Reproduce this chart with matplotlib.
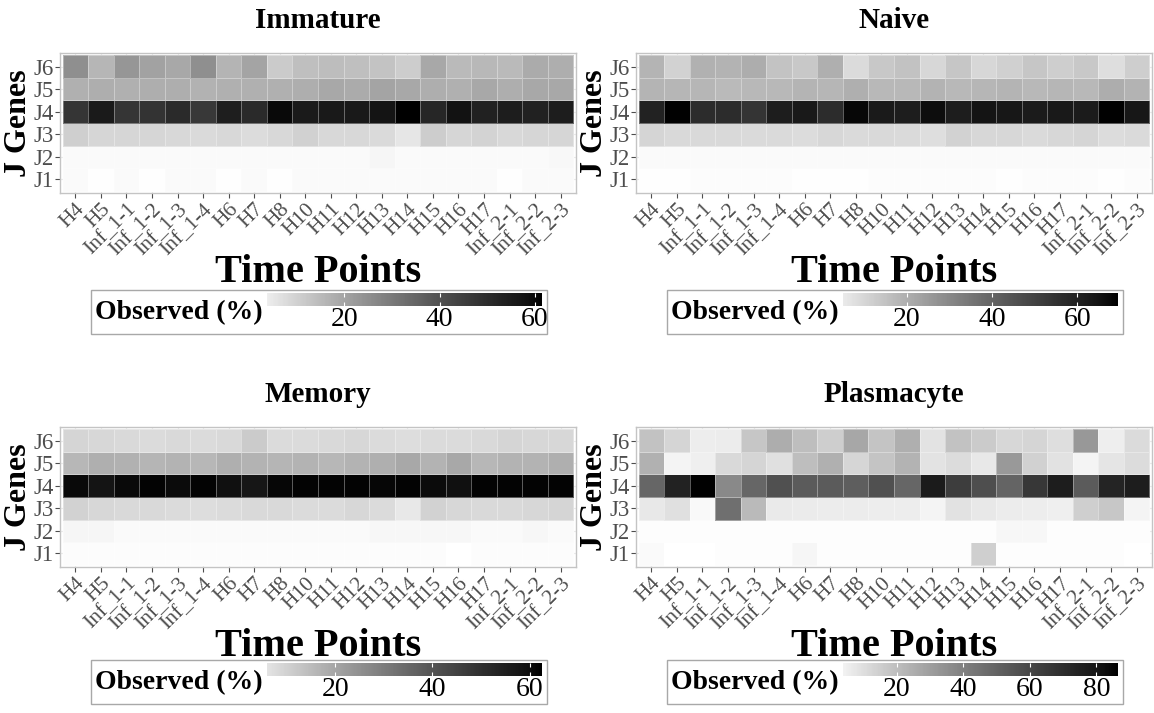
import matplotlib
matplotlib.use('Agg')
import matplotlib.pyplot as plt
from matplotlib.colors import ListedColormap, Normalize
from matplotlib.patches import Rectangle
import numpy as np

plt.rcParams['font.family'] = ['Liberation Serif', 'DejaVu Serif']

time_points = ['H4', 'H5', 'Inf_1-1', 'Inf_1-2', 'Inf_1-3', 'Inf_1-4', 'H6', 'H7', 'H8',
               'H10', 'H11', 'H12', 'H13', 'H14', 'H15', 'H16', 'H17',
               'Inf_2-1', 'Inf_2-2', 'Inf_2-3']
j_genes = ['J1', 'J2', 'J3', 'J4', 'J5', 'J6']

# observed usage (%), rows J1..J6, columns follow time_points
immature = [
    [1.0, 0.3, 1.0, 0.3, 1.0, 1.0, 0.3, 1.0, 0.3, 1.0, 1.0, 1.0, 1.0, 1.0, 1.0, 1.0, 1.0, 0.3, 1.0, 1.0],
    [1.0, 1.0, 1.0, 1.0, 1.0, 1.0, 1.0, 1.0, 1.0, 1.0, 1.0, 1.0, 2.0, 1.0, 1.0, 1.0, 1.0, 1.0, 1.0, 1.5],
    [10.5, 9, 9, 9, 8.5, 8, 8.5, 7.5, 8.5, 10, 8.5, 8.5, 8, 5.5, 11, 9, 9.5, 8.5, 9, 9],
    [48, 55.5, 48, 48.5, 51, 47, 54.5, 51, 60, 55.5, 56, 56, 57.5, 62, 52, 58, 53.5, 55, 53.5, 55],
    [17.5, 18, 17.5, 18, 18, 17, 17.5, 17.5, 17.5, 18, 19, 18.5, 20, 19, 18, 17.5, 19, 18, 19, 19],
    [25, 16, 23.5, 20.5, 19, 25, 16.5, 20, 11.5, 14, 14.5, 14, 13, 11, 19, 15, 15.5, 15, 18.5, 18],
]
naive = [
    [0.3, 0.3, 1.0, 1.0, 1.0, 1.0, 0.3, 0.3, 0.3, 1.0, 1.0, 1.0, 1.0, 1.0, 0.3, 1.0, 1.0, 1.0, 0.3, 1.0],
    [1.2, 1.2, 1.2, 1.2, 1.2, 1.2, 1.2, 1.2, 1.2, 1.2, 1.2, 1.2, 1.2, 1.2, 1.2, 1.2, 1.2, 1.2, 1.2, 1.2],
    [10.5, 9.5, 9.5, 9.5, 9, 9, 8.5, 10, 9, 9.5, 9, 8, 11, 10, 10, 9, 10, 10.5, 8.5, 9],
    [60, 69, 57, 57, 54.5, 62, 63.5, 57, 68, 63, 62, 67, 62, 65, 64, 62.5, 63.5, 62.5, 69, 64],
    [18.5, 18, 18, 17, 17.5, 17.5, 18.5, 18, 20, 17.5, 17.5, 19, 17.5, 18, 18.5, 17.5, 18, 17.5, 20.5, 19],
    [18.5, 11, 19.5, 19, 20.5, 14.7, 13.5, 20, 8.7, 13.5, 15, 10, 14, 10, 11.5, 14, 12, 13.5, 8, 12],
]
memory = [
    [0.8, 0.8, 0.8, 0.8, 0.8, 0.8, 0.8, 0.8, 0.8, 0.8, 0.8, 0.8, 0.8, 0.8, 0.8, 0.2, 0.8, 0.8, 0.8, 0.8],
    [2, 2, 1, 1, 1, 1, 1, 1, 1, 1, 1, 1, 1.8, 1.8, 1.8, 1.8, 1, 1, 1.8, 1],
    [10, 9, 8.5, 8.5, 8, 7.5, 8, 8.5, 8.5, 8, 8, 9, 8, 5, 10, 9, 8.5, 8.5, 9, 9.5],
    [61, 58.5, 61, 62, 60.5, 62, 59.5, 58, 61.5, 62, 62, 62, 61.5, 62, 60.5, 59.5, 62, 62, 62, 62],
    [16, 18, 17.5, 16.5, 17, 16, 18, 17, 16.5, 17, 16, 17, 18, 19.5, 17, 19.5, 16, 17, 17, 18],
    [9.5, 9, 8.5, 8, 8.5, 8, 8.5, 11.5, 8, 8, 8.5, 9, 8, 7.5, 8, 8, 8.5, 9.5, 9, 9],
]
plasmacyte = [
    [1.5, 0, 0, 1, 1, 1, 3, 1, 1, 1, 1, 1, 1, 14.7, 0.8, 0.8, 0.8, 0.8, 0.8, 0.3],
    [1, 1, 1, 1, 1, 1, 1, 1, 1, 1, 1, 1, 1, 1, 2.5, 2.5, 1, 1, 1, 1],
    [7, 9.5, 2, 46, 21, 6.5, 6.2, 6, 6, 5.6, 5.6, 3.5, 9, 7, 6, 5.6, 5, 14.7, 17, 3.5],
    [49, 75, 86, 37, 49, 57, 53, 53, 52, 57, 49, 78, 64, 57.5, 50, 66.5, 77, 53, 74, 77],
    [24, 3.7, 5, 11.6, 13, 9.5, 20, 24.5, 12.8, 18.2, 23.5, 8.7, 10.8, 7, 32, 14, 9, 3.5, 8, 10.8],
    [18.6, 13, 5.6, 5.8, 17.3, 25.5, 20, 15, 27.3, 18, 24.7, 8.7, 18.6, 16, 12.5, 13, 10, 32.3, 5.3, 11],
]

W, H = 1154, 713

# white -> black, linear in L* like ggplot's gradient
L = np.linspace(100, 0, 256)
Y = np.where(L > 8, ((L + 16) / 116) ** 3, L / 903.3)
g = np.where(Y > 0.0031308, 1.055 * Y ** (1 / 2.4) - 0.055, 12.92 * Y)
greys = ListedColormap(np.column_stack([g, g, g]))


def fx(x):
    return x / W


def fy(y):
    return 1 - y / H


panels = [
    ('Immature', immature, 60, 53, 3.8, 61.5, [20, 40, 60], 91, 290),
    ('Naive', naive, 636, 53, 5.0, 69.5, [20, 40, 60], 667, 290),
    ('Memory', memory, 60, 427, 6.0, 62.5, [20, 40, 60], 91, 660),
    ('Plasmacyte', plasmacyte, 636, 427, 3.8, 86.5, [20, 40, 60, 80], 667, 660),
]

fig = plt.figure(figsize=(W / 100, H / 100), dpi=100)

for title, values, left, top, lo, hi, ticks, bx, by in panels:
    aw, ah = 516, 140
    ax = fig.add_axes([fx(left), fy(top + ah), aw / W, ah / H])
    norm = Normalize(vmin=0, vmax=hi)
    data = np.array(values)
    ax.set_axisbelow(True)
    ax.grid(color='#EBEBEB', lw=0.8)
    ax.pcolormesh(np.arange(-0.5, len(time_points)), np.arange(-0.5, len(j_genes)), data,
                  cmap=greys, norm=norm, edgecolors=(1, 1, 1, 0.35), linewidth=0.6)
    ax.set_xlim(-0.6, len(time_points) - 0.4)
    ax.set_ylim(-0.6, len(j_genes) - 0.4)
    ax.set_xticks(range(len(time_points)))
    ax.set_xticklabels(time_points, rotation=45, ha='right', va='top', rotation_mode='anchor')
    ax.set_yticks(range(len(j_genes)))
    ax.set_yticklabels(j_genes)
    ax.tick_params(length=3.5, width=0.8, color='#4D4D4D', labelcolor='#4D4D4D', pad=1.5)
    ax.tick_params(axis='x', labelsize=15.5)
    ax.tick_params(axis='y', labelsize=16.5, pad=1)
    for s in ax.spines.values():
        s.set_color('#C4C4C4')
        s.set_linewidth(1)

    cx = left + aw / 2
    fig.text(fx(cx), fy(top - 33), title, ha='center', va='center', fontsize=21, fontweight='bold')
    fig.text(fx(cx), fy(top + 219), 'Time Points', ha='center', va='center',
             fontsize=29, fontweight='bold')
    fig.text(fx(left - 41), fy(top + ah / 2), 'J Genes', ha='center', va='center',
             rotation=90, fontsize=23, fontweight='bold')

    # legend box with colour bar
    fig.patches.append(Rectangle((fx(bx), fy(by + 44)), 456 / W, 44 / H,
                                 transform=fig.transFigure, fill=False,
                                 edgecolor='#A8A8A8', lw=1))
    fig.text(fx(bx + 4), fy(by + 23), 'Observed (%)', ha='left', va='center',
             fontsize=20, fontweight='bold')
    cax = fig.add_axes([fx(bx + 176), fy(by + 16), 275 / W, 13 / H])
    grad = np.linspace(lo, hi, 300).reshape(1, -1)
    cax.imshow(grad, cmap=greys, norm=norm, aspect='auto', extent=[lo, hi, 0, 1])
    cax.set_xlim(lo, hi)
    cax.set_yticks([])
    cax.set_xticks(ticks)
    cax.set_xticklabels([str(t) for t in ticks])
    cax.tick_params(axis='x', direction='in', length=3, width=0.8, color='white',
                    labelsize=20, pad=0.5, top=True)
    for s in cax.spines.values():
        s.set_visible(False)

fig.savefig('out.png', dpi=100)
